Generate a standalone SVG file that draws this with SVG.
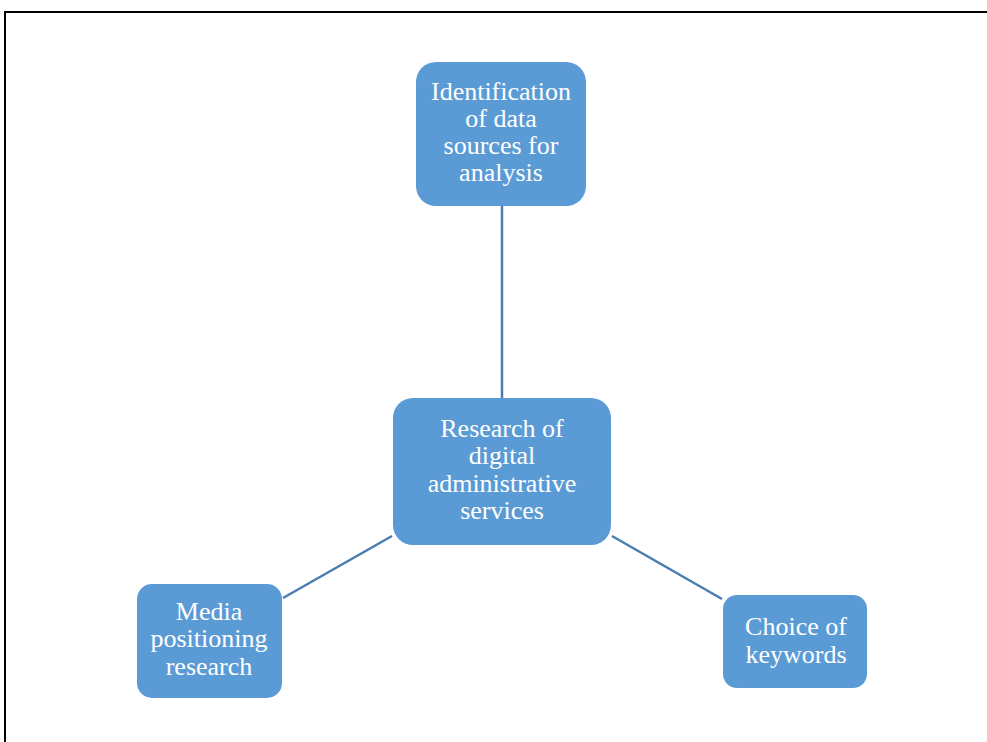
<svg xmlns="http://www.w3.org/2000/svg" width="987" height="742" viewBox="0 0 987 742">
<style>
.box{fill:#5b9bd5;}
.t{font-family:"Liberation Serif","Times New Roman",serif;font-size:26px;fill:#ffffff;text-anchor:middle;}
.c{stroke:#4a7db0;stroke-width:2.5;fill:none;}
</style>
<rect x="0" y="0" width="987" height="742" fill="#ffffff"/>
<rect x="5" y="12" width="1000" height="760" fill="none" stroke="#000000" stroke-width="2"/>
<g id="connectors">
<line class="c" x1="502" y1="206" x2="502" y2="398"/>
<line class="c" x1="283" y1="598" x2="392" y2="536"/>
<line class="c" x1="612" y1="536" x2="722" y2="599"/>
</g>
<g id="node-top">
<rect class="box" x="416" y="62" width="170" height="144" rx="20"/>
<text class="t" x="501" y="100">Identification</text>
<text class="t" x="501" y="127">of data</text>
<text class="t" x="501" y="154">sources for</text>
<text class="t" x="501" y="181">analysis</text>
</g>
<g id="node-center">
<rect class="box" x="393" y="398" width="218" height="147" rx="20"/>
<text class="t" x="502" y="437">Research of</text>
<text class="t" x="502" y="464">digital</text>
<text class="t" x="502" y="492">administrative</text>
<text class="t" x="502" y="519">services</text>
</g>
<g id="node-left">
<rect class="box" x="137" y="584" width="145" height="114" rx="15"/>
<text class="t" x="209" y="620">Media</text>
<text class="t" x="209" y="647">positioning</text>
<text class="t" x="209" y="675">research</text>
</g>
<g id="node-right">
<rect class="box" x="723" y="595" width="144" height="93" rx="14"/>
<text class="t" x="796" y="635">Choice of</text>
<text class="t" x="796" y="663">keywords</text>
</g>
</svg>
